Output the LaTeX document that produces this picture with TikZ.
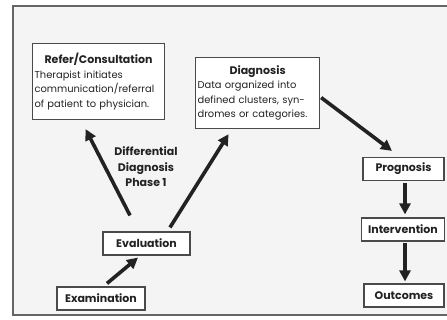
\documentclass[tikz,border=0pt]{standalone}
\usepackage{fontspec}
\setmainfont{Poppins}
\usetikzlibrary{arrows.meta,calc}
\definecolor{ink}{HTML}{222222}
\definecolor{edge}{HTML}{4A4A4A}
\definecolor{paper}{HTML}{F4F4F4}
\begin{document}
\begin{tikzpicture}[x=1pt,y=-1pt,
  box/.style={draw=edge, line width=1.15pt, fill=white, text=ink},
  stage/.style={box, font=\fontsize{11}{13}\selectfont\bfseries, inner sep=2pt,
    minimum height=23pt, anchor=center},
  notebox/.style={box, font=\fontsize{9.9}{14.5}\selectfont, align=left,
    anchor=north west, inner sep=2pt},
  arr/.style={line width=3.6pt, draw=ink, -{Triangle[length=11pt,width=11pt]}},
]
\useasboundingbox (0,0) rectangle (447,320);
% page frame
\fill[paper] (13,6) rectangle (447,315);
\draw[edge!85, line width=1.3pt] (447,6) -- (13,6) -- (13,315) -- (447,315);

% boxes with notes
\node[notebox, text width=128pt, minimum height=76pt] (refer) at (32,43)
  {\makebox[128pt]{\bfseries\fontsize{11}{13}\selectfont Refer/Consultation}\\
   Therapist initiates\\communication/referral\\of patient to physician.};
\node[notebox, text width=120pt, minimum height=71pt] (diag) at (195,57)
  {\makebox[120pt]{\bfseries\fontsize{11}{13}\selectfont Diagnosis}\\
   Data organized into\\defined clusters, syn-\\dromes or categories.};

% single-word stages
\node[stage, minimum width=87pt] (eval) at (146.5,243.5) {Evaluation};
\node[stage, minimum width=88pt] (exam) at (101,298.5) {Examination};
\node[stage, minimum width=81pt] (prog) at (403.5,169) {Prognosis};
\node[stage, minimum width=83pt] (interv) at (403,229.5) {Intervention};
\node[stage, minimum width=80pt] (outc) at (404,295.5) {Outcomes};

% phase label
\node[align=center, text=ink, font=\fontsize{11}{15.5}\selectfont\bfseries] (phase)
  at (146,167) {Differential\\Diagnosis\\Phase 1};

% connectors
\draw[arr] ($(exam.north)+(6,-3)$) -- ($(eval.south)+(-8.5,2)$);
\draw[arr] ($(eval.north)+(-16.5,-16)$) -- ($(refer.south)+(-13,9)$);
\draw[arr] ($(eval.north)+(23.5,-4)$) -- ($(diag.south)+(-29,5)$);
\draw[arr] ($(diag.east)+(1,4.5)$) -- ($(prog.north)+(-11.5,-6)$);
\draw[arr] ($(prog.south)+(1.5,2)$) -- ($(interv.north)+(2,-3)$);
\draw[arr] ($(interv.south)+(2,1)$) -- ($(outc.north)+(1,-2)$);
\end{tikzpicture}
\end{document}
